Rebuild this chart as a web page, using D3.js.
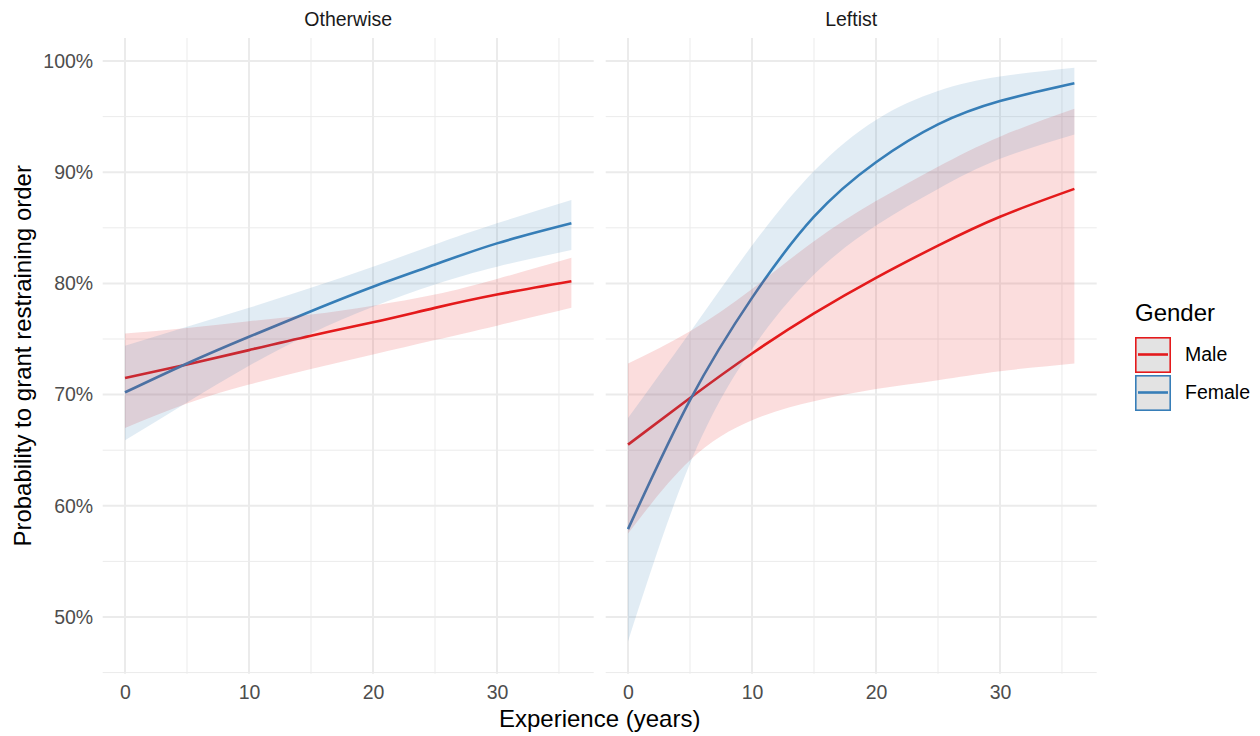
<!DOCTYPE html>
<html>
<head>
<meta charset="utf-8">
<script src="https://cdn.jsdelivr.net/npm/d3@7"></script>
<style>
  html, body { margin: 0; padding: 0; background: #ffffff; }
  svg { display: block; font-family: "Liberation Sans", Arial, Helvetica, sans-serif; }
</style>
</head>
<body>
<svg id="chart" width="1260" height="736"></svg>
<script>
// Predicted probability of granting a restraining order by judge experience,
// with 95% confidence bands, split by political leaning and judge gender.
const experience = [0, 5, 10, 15, 20, 25, 30, 36];

const facetNames = ["Otherwise", "Leftist"];
const genderNames = ["Male", "Female"];

// Otherwise
const maleOtherFit   = [0.715, 0.727, 0.740, 0.753, 0.765, 0.778, 0.790, 0.802];
const maleOtherLow   = [0.670, 0.692, 0.709, 0.723, 0.736, 0.749, 0.762, 0.778];
const maleOtherHigh  = [0.755, 0.760, 0.766, 0.772, 0.780, 0.790, 0.804, 0.823];
const femaleOtherFit  = [0.702, 0.728, 0.752, 0.775, 0.797, 0.817, 0.836, 0.854];
const femaleOtherLow  = [0.659, 0.693, 0.726, 0.755, 0.779, 0.799, 0.815, 0.830];
const femaleOtherHigh = [0.744, 0.761, 0.778, 0.796, 0.815, 0.835, 0.854, 0.875];

// Leftist
const maleLeftFit   = [0.655, 0.697, 0.737, 0.773, 0.805, 0.834, 0.860, 0.885];
const maleLeftLow   = [0.575, 0.641, 0.677, 0.694, 0.705, 0.713, 0.721, 0.728];
const maleLeftHigh  = [0.728, 0.757, 0.795, 0.838, 0.874, 0.905, 0.932, 0.957];
const femaleLeftFit  = [0.579, 0.695, 0.787, 0.860, 0.909, 0.943, 0.964, 0.980];
const femaleLeftLow  = [0.478, 0.638, 0.741, 0.808, 0.852, 0.885, 0.912, 0.934];
const femaleLeftHigh = [0.679, 0.756, 0.834, 0.901, 0.947, 0.973, 0.986, 0.994];

const yTicks = [0.5, 0.6, 0.7, 0.8, 0.9, 1.0];
const yMinor = [0.45, 0.55, 0.65, 0.75, 0.85, 0.95];
const xTicks = [0, 10, 20, 30];
const xMinor = [5, 15, 25, 35];

const genderColor = { Male: "#E41A1C", Female: "#377EB8" };

function rows(fit, low, high) {
  return experience.map((x, i) => ({ x, fit: fit[i], low: low[i], high: high[i] }));
}

const panels = [
  { name: facetNames[0], series: [
      { gender: "Male", values: rows(maleOtherFit, maleOtherLow, maleOtherHigh) },
      { gender: "Female", values: rows(femaleOtherFit, femaleOtherLow, femaleOtherHigh) } ] },
  { name: facetNames[1], series: [
      { gender: "Male", values: rows(maleLeftFit, maleLeftLow, maleLeftHigh) },
      { gender: "Female", values: rows(femaleLeftFit, femaleLeftLow, femaleLeftHigh) } ] }
];

const svg = d3.select("#chart");

const panelTop = 38, panelBottom = 673.7;
const panelRanges = [[102.7, 593.7], [605.7, 1096.7]];
const xDomain = [-1.8, 37.8];

const y = d3.scaleLinear().domain([0.449, 1.0207]).range([panelBottom, panelTop]);

const tickColor = "#4D4D4D";
const gridColor = "#EBEBEB";
const smallFont = 19.5, titleFont = 24;

panels.forEach((panel, pi) => {
  const x = d3.scaleLinear().domain(xDomain).range(panelRanges[pi]);
  const g = svg.append("g").attr("class", "panel");

  // grid
  g.selectAll("line.yminor").data(yMinor).join("line")
    .attr("x1", x.range()[0]).attr("x2", x.range()[1])
    .attr("y1", d => y(d)).attr("y2", d => y(d))
    .attr("stroke", gridColor).attr("stroke-width", 1);
  g.selectAll("line.xminor").data(xMinor).join("line")
    .attr("y1", panelTop).attr("y2", panelBottom)
    .attr("x1", d => x(d)).attr("x2", d => x(d))
    .attr("stroke", gridColor).attr("stroke-width", 1);
  g.selectAll("line.ymajor").data(yTicks).join("line")
    .attr("x1", x.range()[0]).attr("x2", x.range()[1])
    .attr("y1", d => y(d)).attr("y2", d => y(d))
    .attr("stroke", gridColor).attr("stroke-width", 2);
  g.selectAll("line.xmajor").data(xTicks).join("line")
    .attr("y1", panelTop).attr("y2", panelBottom)
    .attr("x1", d => x(d)).attr("x2", d => x(d))
    .attr("stroke", gridColor).attr("stroke-width", 2);

  const line = d3.line().x(d => x(d.x)).y(d => y(d.fit)).curve(d3.curveNatural);
  const area = d3.area().x(d => x(d.x)).y0(d => y(d.low)).y1(d => y(d.high)).curve(d3.curveNatural);

  // fitted lines underneath, translucent bands on top
  panel.series.forEach(s => {
    g.append("path").datum(s.values)
      .attr("d", line).attr("fill", "none")
      .attr("stroke", genderColor[s.gender]).attr("stroke-width", 2.6);
  });
  panel.series.forEach(s => {
    g.append("path").datum(s.values)
      .attr("d", area).attr("fill", genderColor[s.gender]).attr("fill-opacity", 0.15);
  });

  // x axis
  const xAxis = svg.append("g").attr("transform", `translate(0,${panelBottom})`)
    .call(d3.axisBottom(x).tickValues(xTicks).tickSize(0).tickPadding(11));
  xAxis.select(".domain").remove();
  xAxis.selectAll("text").attr("fill", tickColor).attr("font-size", smallFont).attr("font-family", null);

  // strip label
  svg.append("text")
    .attr("x", (x.range()[0] + x.range()[1]) / 2).attr("y", 26)
    .attr("text-anchor", "middle").attr("font-size", smallFont).attr("fill", "#1A1A1A")
    .text(panel.name);
});

// y axis
const yAxis = svg.append("g").attr("transform", `translate(${panelRanges[0][0]},0)`)
  .call(d3.axisLeft(y).tickValues(yTicks).tickFormat(d3.format(".0%")).tickSize(0).tickPadding(9.5));
yAxis.select(".domain").remove();
yAxis.selectAll("text").attr("fill", tickColor).attr("font-size", smallFont).attr("font-family", null);

// axis titles
svg.append("text")
  .attr("x", (panelRanges[0][0] + panelRanges[1][1]) / 2).attr("y", 727)
  .attr("text-anchor", "middle").attr("font-size", titleFont).attr("fill", "#000")
  .text("Experience (years)");
svg.append("text")
  .attr("transform", `translate(31,${(panelTop + panelBottom) / 2}) rotate(-90)`)
  .attr("text-anchor", "middle").attr("font-size", titleFont).attr("fill", "#000")
  .text("Probability to grant restraining order");

// legend
const legend = svg.append("g").attr("transform", "translate(1135,0)");
legend.append("text").attr("x", 0).attr("y", 321).attr("font-size", titleFont).attr("fill", "#000").text("Gender");
genderNames.forEach((gname, i) => {
  const top = 337 + i * 38;
  const key = legend.append("g");
  key.append("rect").attr("x", 0.8).attr("y", top + 0.8).attr("width", 34.4).attr("height", 34.4)
    .attr("fill", "#E3E3E3").attr("stroke", genderColor[gname]).attr("stroke-width", 1.6);
  key.append("line").attr("x1", 3).attr("x2", 33).attr("y1", top + 17.5).attr("y2", top + 17.5)
    .attr("stroke", genderColor[gname]).attr("stroke-width", 2.6);
  legend.append("text").attr("x", 50).attr("y", top + 17.5).attr("dy", "0.35em")
    .attr("font-size", smallFont).attr("fill", "#000").text(gname);
});
</script>
</body>
</html>
